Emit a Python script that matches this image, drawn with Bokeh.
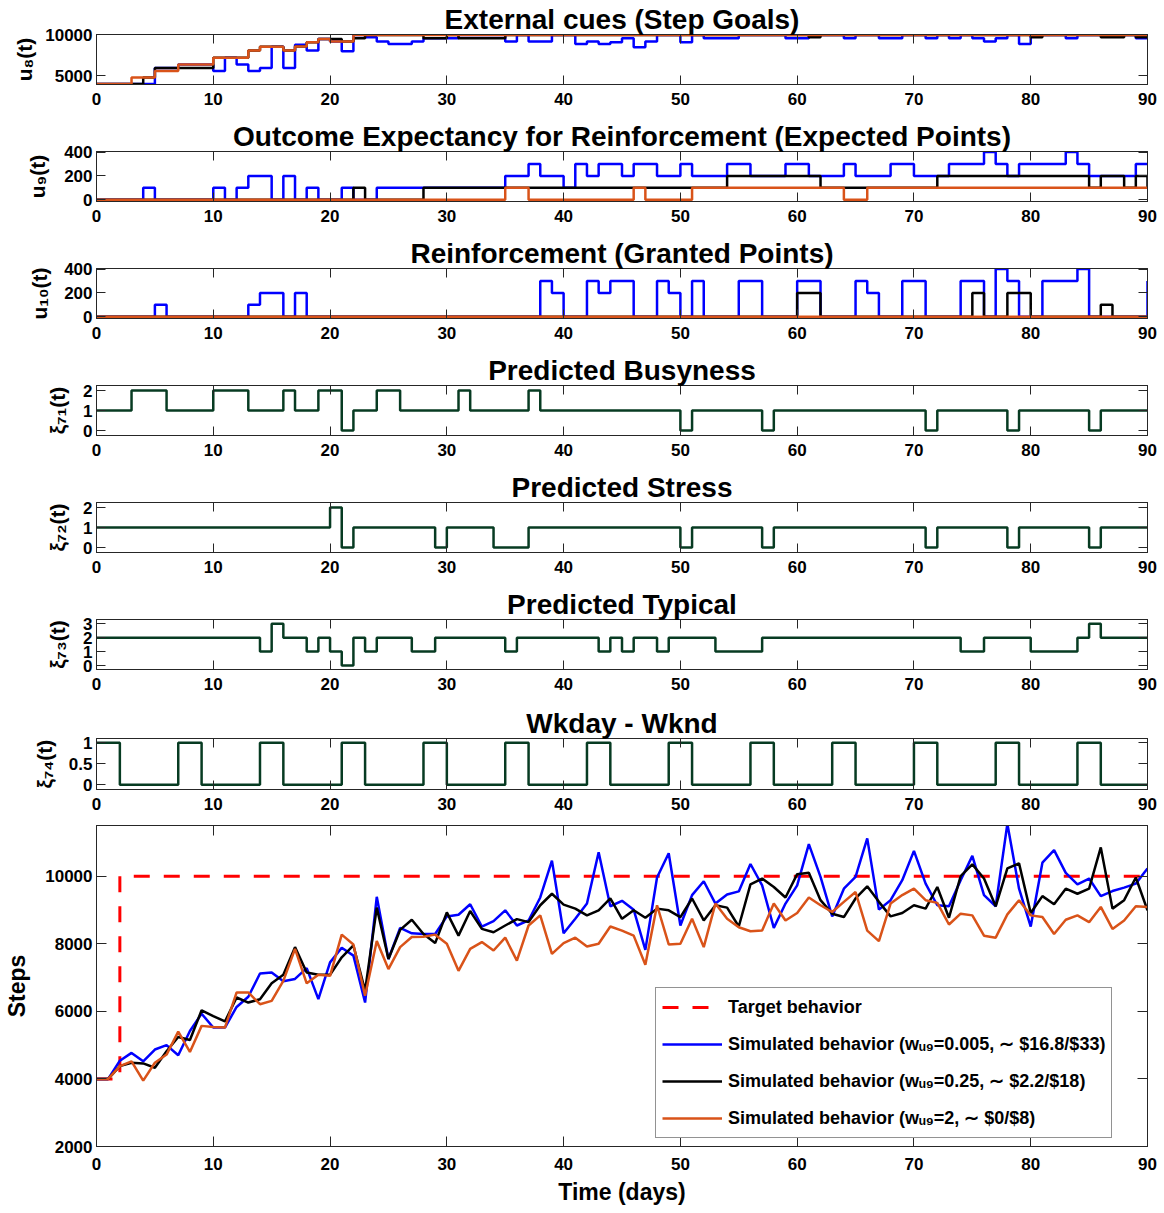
from bokeh.plotting import figure
from bokeh.models import (ColumnDataSource, FixedTicker, LinearAxis, Range1d, Legend,
                          LegendItem, CustomJSTickFormatter)
from bokeh.layouts import column
from bokeh.embed import file_html
from bokeh.resources import INLINE

# ---------------- data ----------------
days = list(range(91))

u8_blue = [4000, 4000, 4000, 4000, 4000, 5950, 5950, 6400, 6400, 6400,
           5600, 7200, 6400, 5600, 5950, 8550, 5950, 8800, 8100, 9500,
           9200, 8000, 10000, 9700, 9200, 8900, 8900, 9200, 9600, 9600,
           9600, 10000, 10000, 10000, 10000, 9200, 10000, 9200, 9200, 10000,
           10000, 8900, 9200, 8900, 9100, 9600, 8500, 9200, 10000, 10000,
           9100, 10000, 9600, 9600, 9600, 10000, 10000, 10000, 10000, 9600,
           9600, 10000, 10000, 10000, 9600, 10000, 10000, 9600, 9600, 10000,
           10000, 9600, 10000, 9600, 10000, 9600, 9200, 9600, 10000, 8900,
           10000, 10000, 10000, 9600, 10000, 10000, 10000, 10000, 10000, 9600,
           9600]
u8_black = [4000, 4000, 4000, 4000, 4800, 5950, 5950, 5950, 5950, 5950,
            7200, 7200, 7200, 8100, 8550, 8550, 8100, 8600, 9100, 9500,
            9500, 9200, 9600, 10000, 10000, 10000, 10000, 10000, 9600, 9600,
            10000, 9600, 9600, 9600, 9600, 10000, 10000, 10000, 10000, 10000,
            10000, 10000, 10000, 10000, 10000, 10000, 10000, 10000, 10000, 10000,
            10000, 10000, 10000, 10000, 10000, 10000, 10000, 10000, 10000, 10000,
            10000, 9700, 10000, 10000, 10000, 10000, 10000, 10000, 10000, 10000,
            10000, 10000, 10000, 10000, 10000, 10000, 10000, 10000, 10000, 10000,
            9700, 10000, 10000, 10000, 10000, 10000, 9700, 9700, 10000, 9700,
            9700]
u8_orange = [4000, 4000, 4000, 4800, 4800, 5600, 5600, 6400, 6400, 6400,
             7200, 7200, 7200, 8100, 8550, 8550, 8100, 8600, 9100, 9500,
             9200, 9200, 10000, 10000, 10000, 10000, 10000, 10000, 10000, 10000,
             10000, 10000, 10000, 10000, 10000, 10000, 10000, 10000, 10000, 10000,
             10000, 10000, 10000, 10000, 10000, 10000, 10000, 10000, 10000, 10000,
             10000, 10000, 10000, 10000, 10000, 10000, 10000, 10000, 10000, 10000,
             10000, 10000, 10000, 10000, 10000, 10000, 10000, 10000, 10000, 10000,
             10000, 10000, 10000, 10000, 10000, 10000, 10000, 10000, 10000, 10000,
             10000, 10000, 10000, 10000, 10000, 10000, 10000, 10000, 10000, 10000,
             10000]

u9_blue = [0, 0, 0, 0, 100, 0, 0, 0, 0, 0,
           100, 0, 100, 200, 200, 0, 200, 0, 100, 0,
           0, 100, 0, 0, 100, 100, 100, 100, 100, 100,
           100, 100, 100, 100, 100, 200, 200, 300, 200, 200,
           100, 300, 200, 300, 300, 200, 300, 300, 200, 200,
           300, 200, 200, 200, 300, 300, 200, 200, 200, 300,
           300, 200, 200, 200, 300, 200, 200, 200, 300, 300,
           200, 200, 200, 300, 300, 300, 400, 300, 200, 300,
           300, 300, 300, 400, 300, 200, 200, 200, 200, 300,
           300]
u9_black = [0, 0, 0, 0, 0, 0, 0, 0, 0, 0,
            0, 0, 0, 0, 0, 0, 0, 0, 0, 0,
            0, 0, 100, 0, 0, 0, 0, 0, 100, 100,
            100, 100, 100, 100, 100, 100, 100, 100, 100, 100,
            100, 100, 100, 100, 100, 100, 100, 100, 100, 100,
            100, 100, 100, 100, 200, 200, 200, 200, 200, 200,
            200, 200, 100, 100, 100, 100, 100, 100, 100, 100,
            100, 100, 200, 200, 200, 200, 200, 200, 200, 200,
            200, 200, 200, 200, 200, 100, 200, 200, 100, 200,
            100]
u9_orange = [0, 0, 0, 0, 0, 0, 0, 0, 0, 0,
             0, 0, 0, 0, 0, 0, 0, 0, 0, 0,
             0, 0, 0, 0, 0, 0, 0, 0, 0, 0,
             0, 0, 0, 0, 0, 100, 100, 0, 0, 0,
             0, 0, 0, 0, 0, 0, 100, 0, 0, 0,
             0, 100, 100, 100, 100, 100, 100, 100, 100, 100,
             100, 100, 100, 100, 0, 0, 100, 100, 100, 100,
             100, 100, 100, 100, 100, 100, 100, 100, 100, 100,
             100, 100, 100, 100, 100, 100, 100, 100, 100, 100,
             100]

u10_blue = [0, 0, 0, 0, 0, 100, 0, 0, 0, 0,
            0, 0, 0, 100, 200, 200, 0, 200, 0, 0,
            0, 0, 0, 0, 0, 0, 0, 0, 0, 0,
            0, 0, 0, 0, 0, 0, 0, 0, 300, 200,
            0, 0, 300, 200, 300, 300, 0, 0, 300, 200,
            0, 300, 0, 0, 0, 300, 300, 0, 0, 0,
            300, 300, 0, 0, 0, 300, 200, 0, 0, 300,
            300, 0, 0, 0, 300, 300, 0, 400, 300, 0,
            0, 300, 300, 300, 400, 0, 0, 0, 0, 0,
            300]
u10_black = [0, 0, 0, 0, 0, 0, 0, 0, 0, 0,
             0, 0, 0, 0, 0, 0, 0, 0, 0, 0,
             0, 0, 0, 0, 0, 0, 0, 0, 0, 0,
             0, 0, 0, 0, 0, 0, 0, 0, 0, 0,
             0, 0, 0, 0, 0, 0, 0, 0, 0, 0,
             0, 0, 0, 0, 0, 0, 0, 0, 0, 0,
             200, 200, 0, 0, 0, 0, 0, 0, 0, 0,
             0, 0, 0, 0, 0, 200, 0, 0, 200, 200,
             0, 0, 0, 0, 0, 0, 100, 0, 0, 0,
             0]
u10_orange = [0] * 91

busyness = [1, 1, 1, 2, 2, 2, 1, 1, 1, 1,
            2, 2, 2, 1, 1, 1, 2, 1, 1, 2,
            2, 0, 1, 1, 2, 2, 1, 1, 1, 1,
            1, 2, 1, 1, 1, 1, 1, 2, 1, 1,
            1, 1, 1, 1, 1, 1, 1, 1, 1, 1,
            0, 1, 1, 1, 1, 1, 1, 0, 1, 1,
            1, 1, 1, 1, 1, 1, 1, 1, 1, 1,
            1, 0, 1, 1, 1, 1, 1, 1, 0, 1,
            1, 1, 1, 1, 1, 0, 1, 1, 1, 1,
            1]
stress = [1, 1, 1, 1, 1, 1, 1, 1, 1, 1,
          1, 1, 1, 1, 1, 1, 1, 1, 1, 1,
          2, 0, 1, 1, 1, 1, 1, 1, 1, 0,
          1, 1, 1, 1, 0, 0, 0, 1, 1, 1,
          1, 1, 1, 1, 1, 1, 1, 1, 1, 1,
          0, 1, 1, 1, 1, 1, 1, 0, 1, 1,
          1, 1, 1, 1, 1, 1, 1, 1, 1, 1,
          1, 0, 1, 1, 1, 1, 1, 1, 0, 1,
          1, 1, 1, 1, 1, 0, 1, 1, 1, 1,
          1]
typical = [2, 2, 2, 2, 2, 2, 2, 2, 2, 2,
           2, 2, 2, 2, 1, 3, 2, 2, 1, 2,
           1, 0, 2, 1, 2, 2, 2, 1, 1, 2,
           2, 2, 2, 2, 2, 1, 2, 2, 2, 2,
           2, 2, 2, 1, 2, 1, 2, 2, 1, 2,
           2, 2, 2, 1, 1, 1, 1, 2, 2, 2,
           2, 2, 2, 2, 2, 2, 2, 2, 2, 2,
           2, 2, 2, 2, 1, 1, 2, 2, 2, 2,
           1, 1, 1, 1, 2, 3, 2, 2, 2, 2,
           2]
wkday = [1, 1, 0, 0, 0, 0, 0, 1, 1, 0,
         0, 0, 0, 0, 1, 1, 0, 0, 0, 0,
         0, 1, 1, 0, 0, 0, 0, 0, 1, 1,
         0, 0, 0, 0, 0, 1, 1, 0, 0, 0,
         0, 0, 1, 1, 0, 0, 0, 0, 0, 1,
         1, 0, 0, 0, 0, 0, 1, 1, 0, 0,
         0, 0, 0, 1, 1, 0, 0, 0, 0, 0,
         1, 1, 0, 0, 0, 0, 0, 1, 1, 0,
         0, 0, 0, 0, 1, 1, 0, 0, 0, 0,
         0]

target = [4000, 4000] + [10000] * 89
steps_blue = [4000, 4000, 4540, 4770, 4520, 4870, 5000, 4700, 5420, 5930,
              5520, 5520, 6130, 6430, 7120, 7150, 6890, 6960, 7280, 6360,
              7450, 7880, 7650, 6260, 9390, 7550, 8470, 8310, 8290, 8290,
              8810, 8860, 9170, 8510, 8670, 8990, 8540, 8690, 9370, 10460,
              8310, 8740, 9190, 10710, 9110, 9270, 9010, 7820, 9960, 10680,
              8540, 9440, 9850, 9190, 9460, 9550, 10360, 9730, 8470, 9190,
              9730, 10950, 9980, 8810, 9630, 9980, 11120, 9010, 9290, 9880,
              10750, 9780, 9140, 9110, 9880, 10600, 9440, 9110, 11550, 9630,
              8510, 10400, 10770, 10100, 9760, 9930, 9410, 9560, 9660, 9780,
              10230]
steps_black = [4000, 4000, 4380, 4480, 4460, 4330, 4820, 5240, 5150, 6030,
               5860, 5700, 6410, 6260, 6360, 6830, 7080, 7900, 7150, 7080,
               7080, 7600, 7950, 6610, 9070, 7550, 8410, 8710, 8290, 8020,
               8930, 8240, 8970, 8440, 8340, 8540, 8730, 8640, 9140, 9480,
               9160, 9040, 8840, 8990, 9340, 8740, 8990, 8770, 9040, 8990,
               8790, 9340, 8690, 9140, 9070, 8510, 9760, 9930, 9680, 9370,
               10060, 10100, 9290, 8890, 8790, 9340, 9700, 9240, 8810, 8910,
               9140, 9040, 9680, 8770, 10000, 10350, 9930, 9110, 10230, 10380,
               8910, 9410, 9170, 9630, 9480, 9630, 10850, 9040, 9290, 9960,
               8990]
steps_orange = [4000, 4000, 4380, 4520, 3950, 4480, 4720, 5400, 4800, 5570,
                5540, 5520, 6560, 6560, 6210, 6310, 6900, 7850, 6830, 7080,
                7050, 8270, 7980, 6460, 8080, 7250, 7900, 8200, 8210, 8270,
                8000, 7200, 7850, 8050, 7800, 8180, 7500, 8540, 8840, 7700,
                8020, 8180, 7920, 8000, 8510, 8390, 8240, 7380, 9140, 7980,
                8000, 8740, 7900, 9190, 8740, 8490, 8370, 8390, 9190, 8690,
                8910, 9370, 9140, 8940, 9240, 9530, 8390, 8080, 9190, 9440,
                9630, 9290, 9210, 8570, 8890, 8840, 8240, 8180, 8870, 9290,
                8840, 8790, 8290, 8710, 8840, 8640, 9090, 8440, 8690, 9110,
                9090]

x_ticks = [0, 10, 20, 30, 40, 50, 60, 70, 80, 90]
legend_labels = ["Target behavior",
                 "Simulated behavior (w\u1d64\u2089=0.005, \u223c $16.8/$33)",
                 "Simulated behavior (w\u1d64\u2089=0.25, \u223c $2.2/$18)",
                 "Simulated behavior (w\u1d64\u2089=2, \u223c $0/$8)"]

# ---------------- styling ----------------
W = 1160
FW = 1051
LEFT = 96
RIGHT = W - LEFT - FW
FONT = "Liberation Sans"
AX = "#262626"
BLUE = "#0000FF"
BLACK = "#000000"
ORANGE = "#D95319"
GREEN = "#073b22"
RED = "#FF0000"


def style_axes(p, yticks, tick_len=9, xstandoff=8):
    for ax in p.below + p.left:
        ax.major_label_text_font = FONT
        ax.major_label_text_font_style = "bold"
        ax.major_label_text_font_size = "17px"
        ax.major_label_text_color = "black"
        ax.major_tick_in = tick_len
        ax.major_tick_out = 0
        ax.minor_tick_line_color = None
        ax.axis_line_color = AX
        ax.major_tick_line_color = AX
        ax.axis_label_text_font = FONT
        ax.axis_label_text_font_style = "bold"
        ax.axis_label_text_color = "black"
    p.below[0].ticker = FixedTicker(ticks=x_ticks)
    p.left[0].ticker = FixedTicker(ticks=yticks)
    p.below[0].major_label_standoff = xstandoff
    p.left[0].major_label_standoff = 4
    p.xgrid.visible = False
    p.ygrid.visible = False
    p.outline_line_color = AX
    p.outline_line_width = 1
    p.outline_line_alpha = 1
    blank = "return ''"
    top = LinearAxis(ticker=FixedTicker(ticks=x_ticks), formatter=CustomJSTickFormatter(code=blank),
                     major_tick_in=tick_len, major_tick_out=0, minor_tick_line_color=None,
                     major_label_standoff=0, major_label_text_font_size="0px",
                     axis_line_color=AX, major_tick_line_color=AX)
    right = LinearAxis(ticker=FixedTicker(ticks=yticks), formatter=CustomJSTickFormatter(code=blank),
                       major_tick_in=tick_len, major_tick_out=0, minor_tick_line_color=None,
                       major_label_standoff=0, major_label_text_font_size="0px",
                       axis_line_color=AX, major_tick_line_color=AX)
    p.add_layout(top, "above")
    p.add_layout(right, "right")


def small_fig(title, ylabel, yr, yticks, height=117, top=34, bottom=33, std=10):
    p = figure(width=W, height=height, x_range=Range1d(0, 90), y_range=Range1d(*yr),
               output_backend="svg", toolbar_location=None,
               min_border_left=LEFT, min_border_right=RIGHT,
               min_border_top=top, min_border_bottom=bottom)
    p.title.text = title
    p.title.align = "center"
    p.title.text_font = FONT
    p.title.text_font_style = "bold"
    p.title.text_font_size = "28px"
    p.title.text_color = "black"
    p.title.standoff = 0
    style_axes(p, yticks)
    ax = p.left[0]
    ax.axis_label = ylabel
    ax.axis_label_text_font_size = "21px"
    ax.axis_label_standoff = std
    return p


figs = []

p1 = small_fig("External cues (Step Goals)", "u\u2088(t)", (3950, 10050), [5000, 10000], std=6)
src1 = ColumnDataSource(dict(d=days, b=u8_blue, k=u8_black, o=u8_orange))
p1.step("d", "b", source=src1, mode="after", color=BLUE, line_width=2.5)
p1.step("d", "k", source=src1, mode="after", color=BLACK, line_width=2.5)
p1.step("d", "o", source=src1, mode="after", color=ORANGE, line_width=2.5)
figs.append(p1)

p2 = small_fig("Outcome Expectancy for Reinforcement (Expected Points)", "u\u2089(t)",
               (-15, 405), [0, 200, 400], std=12)
src2 = ColumnDataSource(dict(d=days, b=u9_blue, k=u9_black, o=u9_orange))
p2.step("d", "b", source=src2, mode="after", color=BLUE, line_width=2.5)
p2.step("d", "k", source=src2, mode="after", color=BLACK, line_width=2.5)
p2.step("d", "o", source=src2, mode="after", color=ORANGE, line_width=2.5)
figs.append(p2)

p3 = small_fig("Reinforcement (Granted Points)", "u\u2081\u2080(t)",
               (-15, 405), [0, 200, 400], std=10)
src3 = ColumnDataSource(dict(d=days, b=u10_blue, k=u10_black, o=u10_orange))
p3.step("d", "b", source=src3, mode="after", color=BLUE, line_width=2.5)
p3.step("d", "k", source=src3, mode="after", color=BLACK, line_width=2.5)
p3.step("d", "o", source=src3, mode="after", color=ORANGE, line_width=2.5)
figs.append(p3)

xi_specs = [("Predicted Busyness", "\u03be\u2087\u2081(t)", busyness, (-0.25, 2.25), [0, 1, 2]),
            ("Predicted Stress", "\u03be\u2087\u2082(t)", stress, (-0.25, 2.25), [0, 1, 2]),
            ("Predicted Typical", "\u03be\u2087\u2083(t)", typical, (-0.28, 3.3), [0, 1, 2, 3]),
            ("Wkday - Wknd", "\u03be\u2087\u2084(t)", wkday, (-0.11, 1.1), [0, 0.5, 1])]
for i, (t, yl, vals, yr, yt) in enumerate(xi_specs):
    if i == 3:
        p = small_fig(t, yl, yr, yt, height=119, top=36, bottom=32, std=10)
    else:
        p = small_fig(t, yl, yr, yt, std=11)
    src = ColumnDataSource(dict(d=days, v=vals))
    p.step("d", "v", source=src, mode="after", color=GREEN, line_width=2.5)
    figs.append(p)

# ---------------- main chart ----------------
pm = figure(width=W, height=390, x_range=Range1d(0, 90), y_range=Range1d(2000, 11500),
            output_backend="svg", toolbar_location=None,
            min_border_left=LEFT, min_border_right=RIGHT, min_border_top=4, min_border_bottom=65)
style_axes(pm, [2000, 4000, 6000, 8000, 10000], tick_len=10, xstandoff=11)
pm.left[0].axis_label = "Steps"
pm.left[0].axis_label_text_font_size = "23px"
pm.left[0].axis_label_standoff = 12
pm.below[0].axis_label = "Time (days)"
pm.below[0].axis_label_text_font_size = "23px"
pm.below[0].axis_label_standoff = 6

srcm = ColumnDataSource(dict(d=days, t=target, b=steps_blue, k=steps_black, o=steps_orange))
r0 = pm.step("d", "t", source=srcm, mode="after", color=RED, line_width=3, line_dash="16 14")
r1 = pm.line("d", "b", source=srcm, color=BLUE, line_width=2.5)
r2 = pm.line("d", "k", source=srcm, color=BLACK, line_width=2.5)
r3 = pm.line("d", "o", source=srcm, color=ORANGE, line_width=2.5)

legend = Legend(items=[LegendItem(label=legend_labels[0], renderers=[r0]),
                       LegendItem(label=legend_labels[1], renderers=[r1]),
                       LegendItem(label=legend_labels[2], renderers=[r2]),
                       LegendItem(label=legend_labels[3], renderers=[r3])],
                location=(559, 8))
legend.label_text_font = FONT
legend.label_text_font_style = "bold"
legend.label_text_font_size = "18px"
legend.label_text_color = "black"
legend.glyph_width = 60
legend.glyph_height = 20
legend.label_height = 26
legend.label_standoff = 6
legend.spacing = 11
legend.padding = 6
legend.margin = 0
legend.border_line_color = AX
legend.border_line_width = 1
legend.background_fill_color = "white"
legend.background_fill_alpha = 1
pm.add_layout(legend)
figs.append(pm)

layout = column(*figs, spacing=0)
open("out.html", "w").write(file_html(layout, INLINE))
